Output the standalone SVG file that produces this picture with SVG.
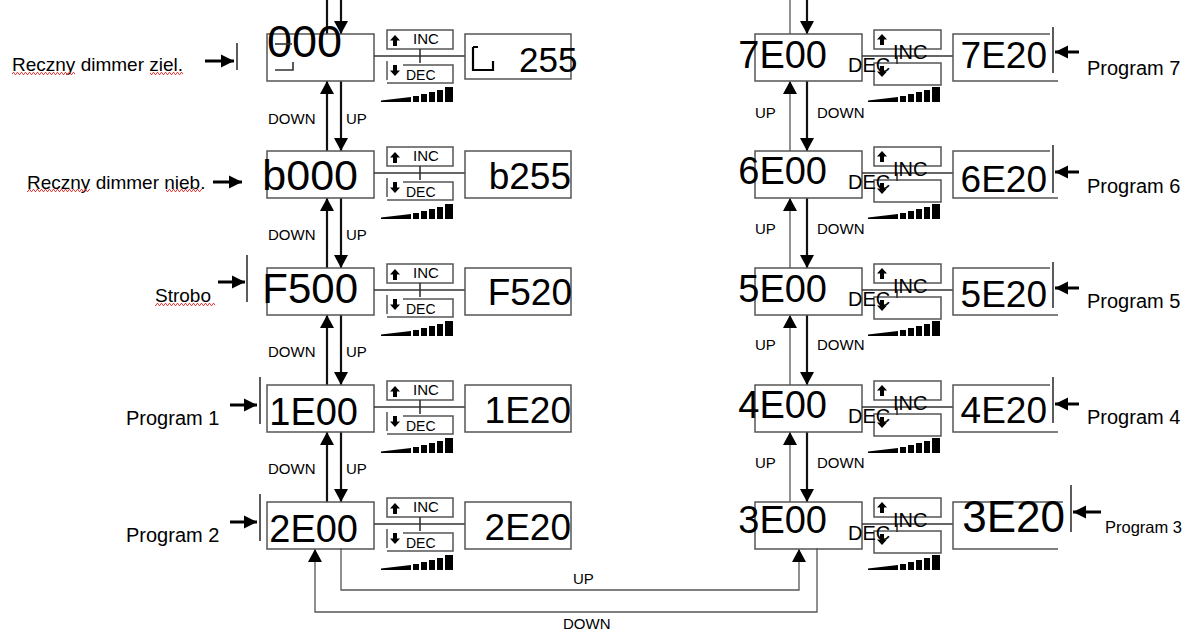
<svg xmlns="http://www.w3.org/2000/svg" xmlns:xlink="http://www.w3.org/1999/xlink" width="1198" height="630" viewBox="0 0 1198 630">
<style>
text{font-family:"Liberation Sans",Arial,sans-serif;fill:#000}
.box{fill:none;stroke:#555;stroke-width:1.5}
.ln{fill:none;stroke:#333;stroke-width:1.6}
.ar{fill:none;stroke:#111;stroke-width:2.2}
.ent{fill:none;stroke:#000;stroke-width:3}
.thin{fill:none;stroke:#555;stroke-width:1.3}
.big{font-size:43px}
.mid{font-size:38px}
.val{font-size:37px}
.rbig{font-size:38px}
.lab{font-size:19px}
.prog{font-size:20px}
.ud{font-size:15px}
.inc{font-size:15px}
.dec{font-size:14px}
.inc2{font-size:20px}
.glyph{fill:#000}
</style>
<defs>
<marker id="ah" markerUnits="userSpaceOnUse" markerWidth="14" markerHeight="14" refX="13" refY="7" orient="auto"><path d="M0,0 L13,7 L0,14 Z" fill="#000"/></marker>
<marker id="ah2" markerUnits="userSpaceOnUse" markerWidth="14" markerHeight="14" refX="13" refY="7" orient="auto"><path d="M0,0.5 L13,7 L0,13.5 Z" fill="#000"/></marker>
<path id="ua" d="M0,0 L5,5.5 L2,5.5 L2,11 L-2,11 L-2,5.5 L-5,5.5 Z"/>
<path id="da" d="M0,11 L5,5.5 L2,5.5 L2,0 L-2,0 L-2,5.5 L-5,5.5 Z"/>
<path id="ramp" d="M0,15 L0,13.5 L30,10 L30,15 Z M32,15 V9 H38 V15 Z M40,15 V7 H46 V15 Z M48,15 V5 H54 V15 Z M56,15 V3 H62 V15 Z M64,15 V0 H72 V15 Z"/>
<pattern id="sq" width="4" height="3" patternUnits="userSpaceOnUse"><path d="M0,2.5 L1,0.5 L2,0.5 L3,2.5 L4,2.5" stroke="#e03030" fill="none" stroke-width="0.9"/></pattern>
</defs>

<!-- connectors -->
<g id="connectors">
  <!-- left column -->
  <line class="ar" x1="327" y1="0" x2="327" y2="34"/>
  <line class="ar" x1="341" y1="0" x2="341" y2="34" marker-end="url(#ah)"/>
  <line class="ar" x1="327" y1="151" x2="327" y2="81" marker-end="url(#ah)"/>
  <line class="ar" x1="341" y1="81" x2="341" y2="151" marker-end="url(#ah)"/>
  <line class="ar" x1="327" y1="268" x2="327" y2="198" marker-end="url(#ah)"/>
  <line class="ar" x1="341" y1="198" x2="341" y2="268" marker-end="url(#ah)"/>
  <line class="ar" x1="327" y1="385" x2="327" y2="315" marker-end="url(#ah)"/>
  <line class="ar" x1="341" y1="315" x2="341" y2="385" marker-end="url(#ah)"/>
  <line class="ar" x1="327" y1="502" x2="327" y2="432" marker-end="url(#ah)"/>
  <line class="ar" x1="341" y1="432" x2="341" y2="502" marker-end="url(#ah)"/>
  <text class="ud" x="268" y="124">DOWN</text><text class="ud" x="346" y="124">UP</text>
  <text class="ud" x="268" y="240">DOWN</text><text class="ud" x="346" y="240">UP</text>
  <text class="ud" x="268" y="357">DOWN</text><text class="ud" x="346" y="357">UP</text>
  <text class="ud" x="268" y="474">DOWN</text><text class="ud" x="346" y="474">UP</text>
  <!-- right column -->
  <line class="thin" x1="790" y1="0" x2="790" y2="34"/>
  <line class="ar" x1="807" y1="0" x2="807" y2="34" marker-end="url(#ah)"/>
  <line class="thin" x1="790" y1="151" x2="790" y2="81" marker-end="url(#ah)"/>
  <line class="ar" x1="807" y1="81" x2="807" y2="151" marker-end="url(#ah)"/>
  <line class="thin" x1="790" y1="268" x2="790" y2="198" marker-end="url(#ah)"/>
  <line class="ar" x1="807" y1="198" x2="807" y2="268" marker-end="url(#ah)"/>
  <line class="thin" x1="790" y1="385" x2="790" y2="315" marker-end="url(#ah)"/>
  <line class="ar" x1="807" y1="315" x2="807" y2="385" marker-end="url(#ah)"/>
  <line class="thin" x1="790" y1="502" x2="790" y2="432" marker-end="url(#ah)"/>
  <line class="ar" x1="807" y1="432" x2="807" y2="502" marker-end="url(#ah)"/>
  <text class="ud" x="755" y="118">UP</text><text class="ud" x="817" y="118">DOWN</text>
  <text class="ud" x="755" y="234">UP</text><text class="ud" x="817" y="234">DOWN</text>
  <text class="ud" x="755" y="350">UP</text><text class="ud" x="817" y="350">DOWN</text>
  <text class="ud" x="755" y="468">UP</text><text class="ud" x="817" y="468">DOWN</text>
  <!-- bottom loop -->
  <path class="thin" d="M341,548 V590 H799 V549" marker-end="url(#ah)"/>
  <path class="thin" d="M817,548 V612 H315 V549" marker-end="url(#ah)"/>
  <text class="ud" x="573" y="584">UP</text>
  <text class="ud" x="563" y="629">DOWN</text>
  <!-- entry arrows left -->
  <line class="ent" x1="205" y1="61" x2="234" y2="61" marker-end="url(#ah2)"/>
  <line class="ent" x1="213" y1="182" x2="242" y2="182" marker-end="url(#ah2)"/>
  <line class="ent" x1="218" y1="282" x2="245" y2="282" marker-end="url(#ah2)"/>
  <line class="ent" x1="230" y1="405" x2="257" y2="405" marker-end="url(#ah2)"/>
  <line class="ent" x1="230" y1="522" x2="257" y2="522" marker-end="url(#ah2)"/>
  <!-- entry arrows right -->
  <line class="ent" x1="1079" y1="52" x2="1055" y2="52" marker-end="url(#ah2)"/>
  <line class="ent" x1="1079" y1="172" x2="1055" y2="172" marker-end="url(#ah2)"/>
  <line class="ent" x1="1079" y1="288" x2="1055" y2="288" marker-end="url(#ah2)"/>
  <line class="ent" x1="1079" y1="404" x2="1055" y2="404" marker-end="url(#ah2)"/>
  <line class="ent" x1="1101" y1="512" x2="1073" y2="512" marker-end="url(#ah2)"/>
</g>

<!-- LEFT COLUMN -->
<g id="row-green">
  <text class="lab" x="12" y="71">Reczny dimmer ziel.</text>
  <rect x="12" y="72" width="63" height="3" fill="url(#sq)"/>
  <rect x="150" y="72" width="33" height="3" fill="url(#sq)"/>
  <line class="ln" x1="237" y1="43" x2="237" y2="70" stroke="#000" stroke-width="2.2"/>
  <rect class="box" x="267" y="34" width="107" height="47"/>
  <text x="267" y="57" style="font-size:45px">000</text>
  <line class="ln" x1="275" y1="44" x2="292" y2="44" stroke="#000" stroke-width="2"/>
  <path class="ln" d="M275,70 H293 V62" stroke="#000" stroke-width="2"/>
  <line class="ln" x1="374" y1="56" x2="465" y2="56"/>
  <rect class="box" x="387" y="30" width="66" height="19"/>
  <path class="box" d="M387,61 V80 M403,65 H453 V83 H387"/>
  <line class="ln" x1="420" y1="49" x2="420" y2="63"/>
  <use href="#ua" x="395" y="35" class="glyph"/><text class="inc" x="413" y="44">INC</text>
  <use href="#da" x="395" y="65" class="glyph"/><text class="dec" x="406" y="80">DEC</text>
  <use href="#ramp" x="381" y="87"/>
  <rect class="box" x="465" y="34" width="106" height="45"/>
  <path d="M473,47 H478 M473,47 V70 H493 V61" fill="none" stroke="#000" stroke-width="2.2"/>
  <text x="519" y="72" style="font-size:35px">255</text>
</g>

<g id="row-blue">
  <text class="lab" x="27" y="189">Reczny dimmer nieb.</text>
  <rect x="27" y="189" width="63" height="3" fill="url(#sq)"/>
  <rect x="166" y="189" width="36" height="3" fill="url(#sq)"/>
  <rect class="box" x="267" y="151" width="107" height="47"/>
  <text class="big" x="358" y="190" text-anchor="end">b000</text>
  <line class="ln" x1="374" y1="173" x2="465" y2="173"/>
  <rect class="box" x="387" y="147" width="66" height="19"/>
  <path class="box" d="M387,178 V197 M403,182 H453 V200 H387"/>
  <line class="ln" x1="420" y1="166" x2="420" y2="180"/>
  <use href="#ua" x="395" y="152" class="glyph"/><text class="inc" x="413" y="161">INC</text>
  <use href="#da" x="395" y="182" class="glyph"/><text class="dec" x="406" y="197">DEC</text>
  <use href="#ramp" x="381" y="204"/>
  <rect class="box" x="465" y="151" width="106" height="47"/>
  <text class="val" x="571" y="189" text-anchor="end">b255</text>
</g>

<g id="row-strobo">
  <text class="lab" x="155" y="302">Strobo</text>
  <rect x="155" y="303" width="60" height="3" fill="url(#sq)"/>
  <line class="ln" x1="247" y1="255" x2="247" y2="302"/>
  <rect class="box" x="267" y="268" width="107" height="47"/>
  <text class="big" x="358" y="303" text-anchor="end" style="font-size:42px">F500</text>
  <line class="ln" x1="374" y1="290" x2="465" y2="290"/>
  <rect class="box" x="387" y="264" width="66" height="19"/>
  <path class="box" d="M387,295 V314 M403,299 H453 V317 H387"/>
  <line class="ln" x1="420" y1="283" x2="420" y2="297"/>
  <use href="#ua" x="395" y="269" class="glyph"/><text class="inc" x="413" y="278">INC</text>
  <use href="#da" x="395" y="299" class="glyph"/><text class="dec" x="406" y="314">DEC</text>
  <use href="#ramp" x="381" y="321"/>
  <rect class="box" x="465" y="268" width="106" height="47"/>
  <text class="val" x="572" y="305" text-anchor="end">F520</text>
</g>

<g id="row-p1">
  <text class="prog" x="126" y="425">Program 1</text>
  <line class="ln" x1="260" y1="377" x2="260" y2="424"/>
  <rect class="box" x="267" y="385" width="107" height="47"/>
  <text class="mid" x="358" y="425" text-anchor="end">1E00</text>
  <line class="ln" x1="374" y1="407" x2="465" y2="407"/>
  <rect class="box" x="387" y="381" width="66" height="19"/>
  <path class="box" d="M387,412 V431 M403,416 H453 V434 H387"/>
  <line class="ln" x1="420" y1="400" x2="420" y2="414"/>
  <use href="#ua" x="395" y="386" class="glyph"/><text class="inc" x="413" y="395">INC</text>
  <use href="#da" x="395" y="416" class="glyph"/><text class="dec" x="406" y="431">DEC</text>
  <use href="#ramp" x="381" y="438"/>
  <rect class="box" x="465" y="385" width="106" height="47"/>
  <text class="val" x="571" y="423" text-anchor="end">1E20</text>
</g>

<g id="row-p2">
  <text class="prog" x="126" y="542">Program 2</text>
  <line class="ln" x1="260" y1="494" x2="260" y2="541"/>
  <rect class="box" x="267" y="502" width="107" height="47"/>
  <text class="mid" x="358" y="542" text-anchor="end">2E00</text>
  <line class="ln" x1="374" y1="524" x2="465" y2="524"/>
  <rect class="box" x="387" y="498" width="66" height="19"/>
  <path class="box" d="M387,529 V548 M403,533 H453 V551 H387"/>
  <line class="ln" x1="420" y1="517" x2="420" y2="531"/>
  <use href="#ua" x="395" y="503" class="glyph"/><text class="inc" x="413" y="512">INC</text>
  <use href="#da" x="395" y="533" class="glyph"/><text class="dec" x="406" y="548">DEC</text>
  <use href="#ramp" x="381" y="555"/>
  <rect class="box" x="465" y="502" width="106" height="47"/>
  <text class="val" x="571" y="540" text-anchor="end">2E20</text>
</g>

<!-- RIGHT COLUMN -->
<g id="row-p7">
  <rect class="box" x="755" y="34" width="107" height="47"/>
  <text class="rbig" x="827" y="68" text-anchor="end">7E00</text>
  <line class="ln" x1="862" y1="56" x2="953" y2="56"/>
  <rect class="box" x="874" y="30" width="67" height="19"/>
  <rect class="box" x="874" y="63" width="67" height="22"/>
  <line class="ln" x1="897" y1="56" x2="897" y2="64"/>
  <use href="#ua" x="882" y="34" class="glyph"/><text class="inc2" x="893" y="59">INC</text>
  <use href="#da" x="882" y="66" class="glyph"/><text class="inc2" x="848" y="72">DEC</text>
  <use href="#ramp" x="868" y="87"/>
  <path class="box" d="M1050,34 H953 V81 H1058"/>
  <line class="ln" x1="1053" y1="27" x2="1053" y2="73"/>
  <text class="val" x="1047" y="68" text-anchor="end">7E20</text>
  <text class="prog" x="1087" y="75">Program 7</text>
</g>

<g id="row-p6">
  <rect class="box" x="755" y="151" width="107" height="47"/>
  <text class="rbig" x="827" y="184" text-anchor="end">6E00</text>
  <line class="ln" x1="862" y1="173" x2="953" y2="173"/>
  <rect class="box" x="874" y="147" width="67" height="19"/>
  <rect class="box" x="874" y="180" width="67" height="22"/>
  <line class="ln" x1="897" y1="173" x2="897" y2="181"/>
  <use href="#ua" x="882" y="151" class="glyph"/><text class="inc2" x="893" y="176">INC</text>
  <use href="#da" x="882" y="183" class="glyph"/><text class="inc2" x="848" y="189">DEC</text>
  <use href="#ramp" x="868" y="204"/>
  <path class="box" d="M1050,151 H953 V198 H1058"/>
  <line class="ln" x1="1053" y1="145" x2="1053" y2="193"/>
  <text class="val" x="1047" y="192" text-anchor="end">6E20</text>
  <text class="prog" x="1087" y="193">Program 6</text>
</g>

<g id="row-p5">
  <rect class="box" x="755" y="268" width="107" height="47"/>
  <text class="rbig" x="827" y="302" text-anchor="end">5E00</text>
  <line class="ln" x1="862" y1="290" x2="953" y2="290"/>
  <rect class="box" x="874" y="264" width="67" height="19"/>
  <rect class="box" x="874" y="297" width="67" height="22"/>
  <line class="ln" x1="897" y1="290" x2="897" y2="298"/>
  <use href="#ua" x="882" y="268" class="glyph"/><text class="inc2" x="893" y="293">INC</text>
  <use href="#da" x="882" y="300" class="glyph"/><text class="inc2" x="848" y="306">DEC</text>
  <use href="#ramp" x="868" y="321"/>
  <path class="box" d="M1050,268 H953 V315 H1058"/>
  <line class="ln" x1="1053" y1="262" x2="1053" y2="308"/>
  <text class="val" x="1047" y="307" text-anchor="end">5E20</text>
  <text class="prog" x="1087" y="308">Program 5</text>
</g>

<g id="row-p4">
  <rect class="box" x="755" y="385" width="107" height="47"/>
  <text class="rbig" x="827" y="418" text-anchor="end">4E00</text>
  <line class="ln" x1="862" y1="407" x2="953" y2="407"/>
  <rect class="box" x="874" y="381" width="67" height="19"/>
  <rect class="box" x="874" y="414" width="67" height="22"/>
  <line class="ln" x1="897" y1="407" x2="897" y2="415"/>
  <use href="#ua" x="882" y="385" class="glyph"/><text class="inc2" x="893" y="410">INC</text>
  <use href="#da" x="882" y="417" class="glyph"/><text class="inc2" x="848" y="423">DEC</text>
  <use href="#ramp" x="868" y="438"/>
  <path class="box" d="M1050,385 H953 V432 H1058"/>
  <line class="ln" x1="1053" y1="377" x2="1053" y2="423"/>
  <text class="val" x="1047" y="423" text-anchor="end">4E20</text>
  <text class="prog" x="1087" y="424">Program 4</text>
</g>

<g id="row-p3">
  <rect class="box" x="755" y="502" width="107" height="47"/>
  <text class="rbig" x="827" y="533" text-anchor="end">3E00</text>
  <line class="ln" x1="862" y1="524" x2="953" y2="524"/>
  <rect class="box" x="874" y="498" width="67" height="19"/>
  <rect class="box" x="874" y="531" width="67" height="22"/>
  <line class="ln" x1="897" y1="524" x2="897" y2="532"/>
  <use href="#ua" x="882" y="502" class="glyph"/><text class="inc2" x="893" y="527">INC</text>
  <use href="#da" x="882" y="534" class="glyph"/><text class="inc2" x="848" y="540">DEC</text>
  <use href="#ramp" x="868" y="555"/>
  <path class="box" d="M1063,502 H953 V549 H1058"/>
  <line class="ln" x1="1071" y1="485" x2="1071" y2="532"/>
  <text x="1065" y="532" text-anchor="end" style="font-size:44px">3E20</text>
  <text x="1105" y="533" style="font-size:16.5px">Program 3</text>
</g>
</svg>
